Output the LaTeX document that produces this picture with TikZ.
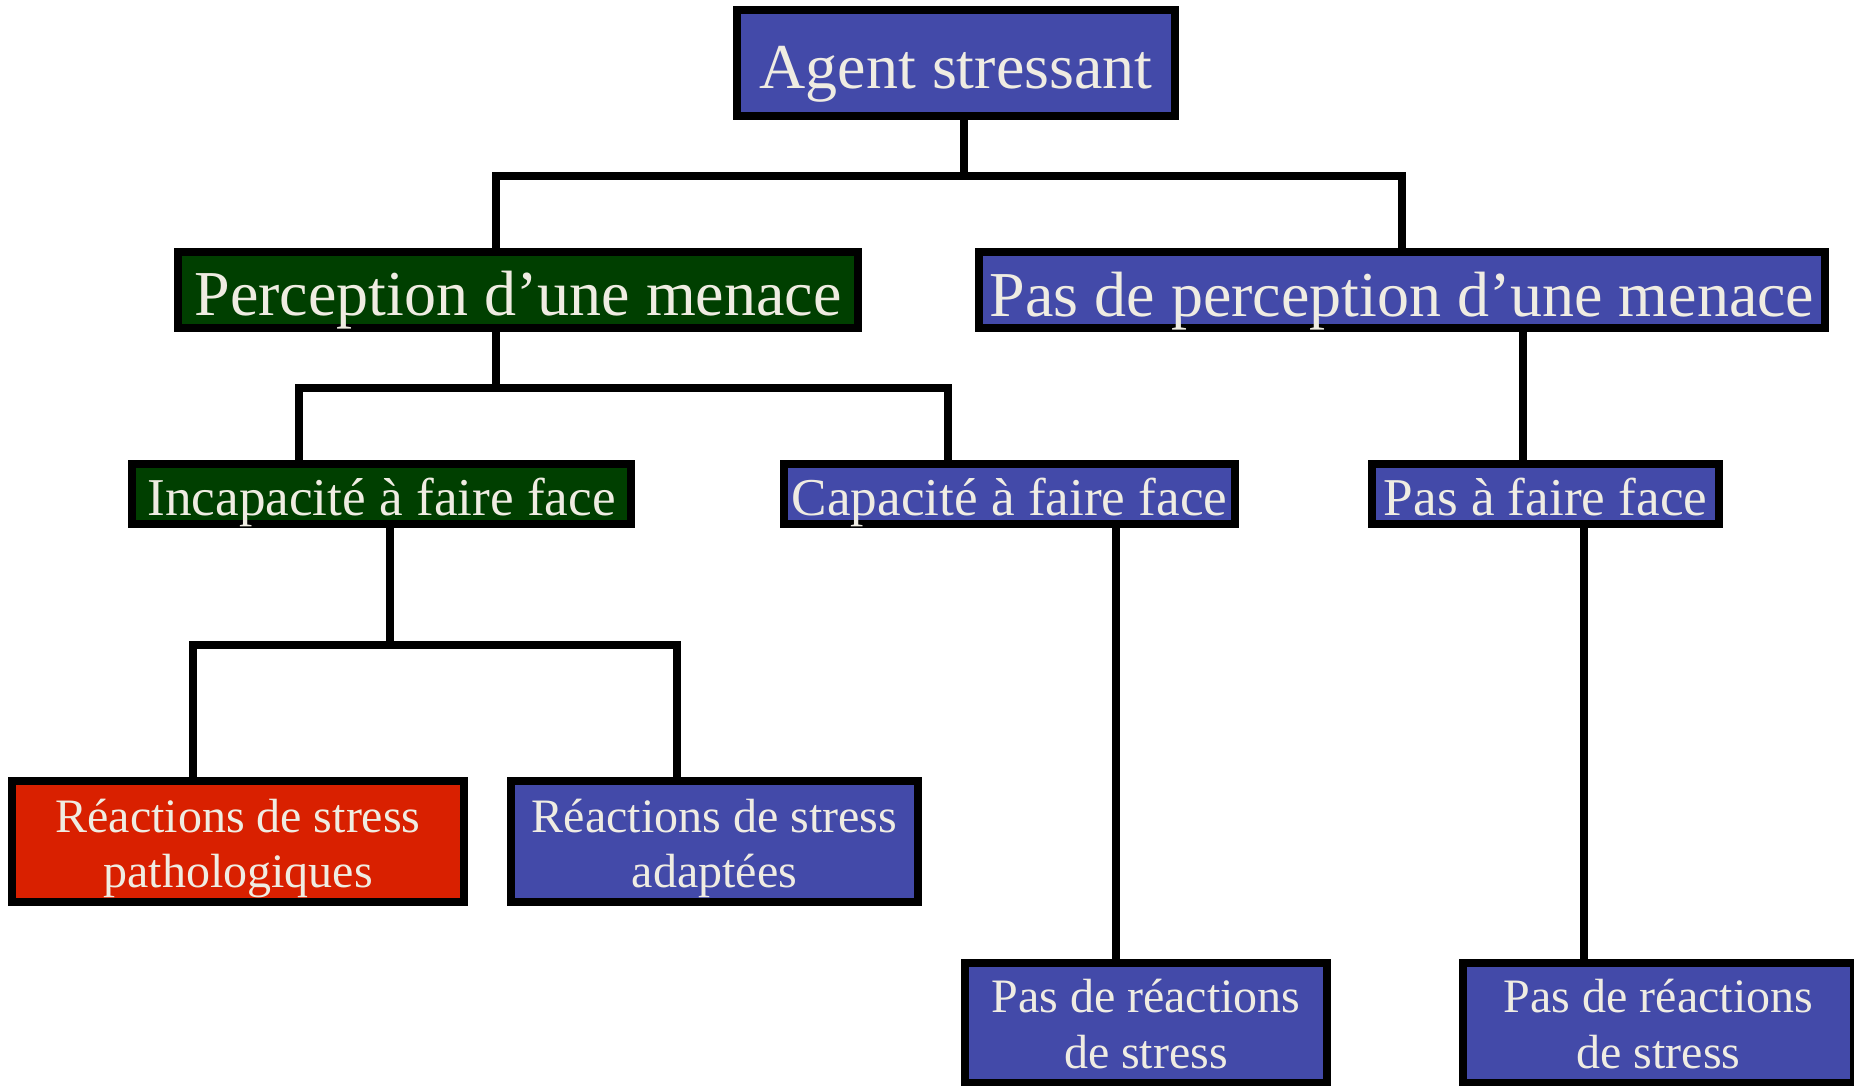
\documentclass[tikz,border=0pt]{standalone}
\usepackage{fontspec}
\setmainfont{Liberation Serif}
\definecolor{boxblue}{RGB}{67,74,169}
\definecolor{boxgreen}{RGB}{0,63,0}
\definecolor{boxred}{RGB}{217,32,0}
\definecolor{boxtext}{RGB}{239,236,226}
\tikzset{
  box/.style={draw=black, line width=4pt, rectangle, inner sep=0pt},
  bluebox/.style={box, fill=boxblue},
  greenbox/.style={box, fill=boxgreen},
  redbox/.style={box, fill=boxred},
  label/.style={text=boxtext, inner sep=0pt, anchor=base, align=center},
  bigtxt/.style={label, font=\fontsize{32pt}{36pt}\selectfont},
  midtxt/.style={label, font=\fontsize{26.6pt}{30pt}\selectfont},
  smalltxt/.style={label, font=\fontsize{24pt}{27.75pt}\selectfont},
  conn/.style={draw=black, line width=3.9pt, line join=miter},
}
\pgfdeclarelayer{back}
\pgfsetlayers{back,main}
\begin{document}
\begin{tikzpicture}[x=0.5pt, y=-0.5pt]
\useasboundingbox (0,0) rectangle (1854,1086);

% junction points and connector columns
\coordinate (j1) at (964,176);
\coordinate (b1l) at (496,176);
\coordinate (b1r) at (1402,176);
\coordinate (j2) at (496,388);
\coordinate (b2l) at (299,388);
\coordinate (b2r) at (948,388);
\coordinate (j3) at (390,645);
\coordinate (b3l) at (193,645);
\coordinate (b3r) at (677,645);
\coordinate (cNF) at (1523,0);
\coordinate (cCD) at (1116,0);
\coordinate (cFD) at (1584,0);

% boxes
\node[bluebox, minimum width=219pt, minimum height=53pt] (A) at (956,63) {};
\node[greenbox, minimum width=340pt, minimum height=38pt] (P) at (518,290) {};
\node[bluebox, minimum width=423pt, minimum height=38pt] (N) at (1402,290) {};
\node[greenbox, minimum width=249.5pt, minimum height=30pt] (I) at (381.5,494) {};
\node[bluebox, minimum width=225.5pt, minimum height=30pt] (C) at (1009.5,494) {};
\node[bluebox, minimum width=173.5pt, minimum height=30pt] (F) at (1545.5,494) {};
\node[redbox, minimum width=226pt, minimum height=60.5pt] (R1) at (238,841.5) {};
\node[bluebox, minimum width=203.5pt, minimum height=60.5pt] (R2) at (714.5,841.5) {};
\node[bluebox, minimum width=181pt, minimum height=60pt] (D1) at (1146,1023) {};
\node[bluebox, minimum width=195.5pt, minimum height=60pt] (D2) at (1658.5,1023) {};

% connectors, kept behind the boxes
\begin{pgfonlayer}{back}
\draw[conn] (A.south -| j1) -- (j1);
\draw[conn] (P.north -| b1l) -- (b1l) -- (b1r) -- (N.north -| b1r);
\draw[conn] (P.south -| j2) -- (j2);
\draw[conn] (I.north -| b2l) -- (b2l) -- (b2r) -- (C.north -| b2r);
\draw[conn] (N.south -| cNF) -- (F.north -| cNF);
\draw[conn] (I.south -| j3) -- (j3);
\draw[conn] (R1.north -| b3l) -- (b3l) -- (b3r) -- (R2.north -| b3r);
\draw[conn] (C.south -| cCD) -- (D1.north -| cCD);
\draw[conn] (F.south -| cFD) -- (D2.north -| cFD);
\end{pgfonlayer}

% texts (two-line labels sit on the baseline of their last line)
\node[bigtxt] (A-t) at ([yshift=-13pt]A.center) {Agent stressant};
\node[bigtxt] (P-t) at ([yshift=-12.75pt]P.center) {Perception d’une menace};
\node[bigtxt] (N-t) at ([yshift=-13pt]N.center) {Pas de perception d’une menace};
\node[midtxt] (I-t) at ([yshift=-10.85pt]I.center) {Incapacité à faire face};
\node[midtxt] (C-t) at ([yshift=-10.85pt]C.center) {Capacité à faire face};
\node[midtxt] (F-t) at ([yshift=-10.85pt]F.center) {Pas à faire face};
\node[smalltxt] (R1-t) at ([yshift=-23.1pt]R1.center) {Réactions de stress\\pathologiques};
\node[smalltxt] (R2-t) at ([yshift=-23.1pt]R2.center) {Réactions de stress\\adaptées};
\node[smalltxt] (D1-t) at ([yshift=-22.5pt]D1.center) {Pas de réactions\\de stress};
\node[smalltxt] (D2-t) at ([yshift=-22.5pt]D2.center) {Pas de réactions\\de stress};
\end{tikzpicture}
\end{document}
